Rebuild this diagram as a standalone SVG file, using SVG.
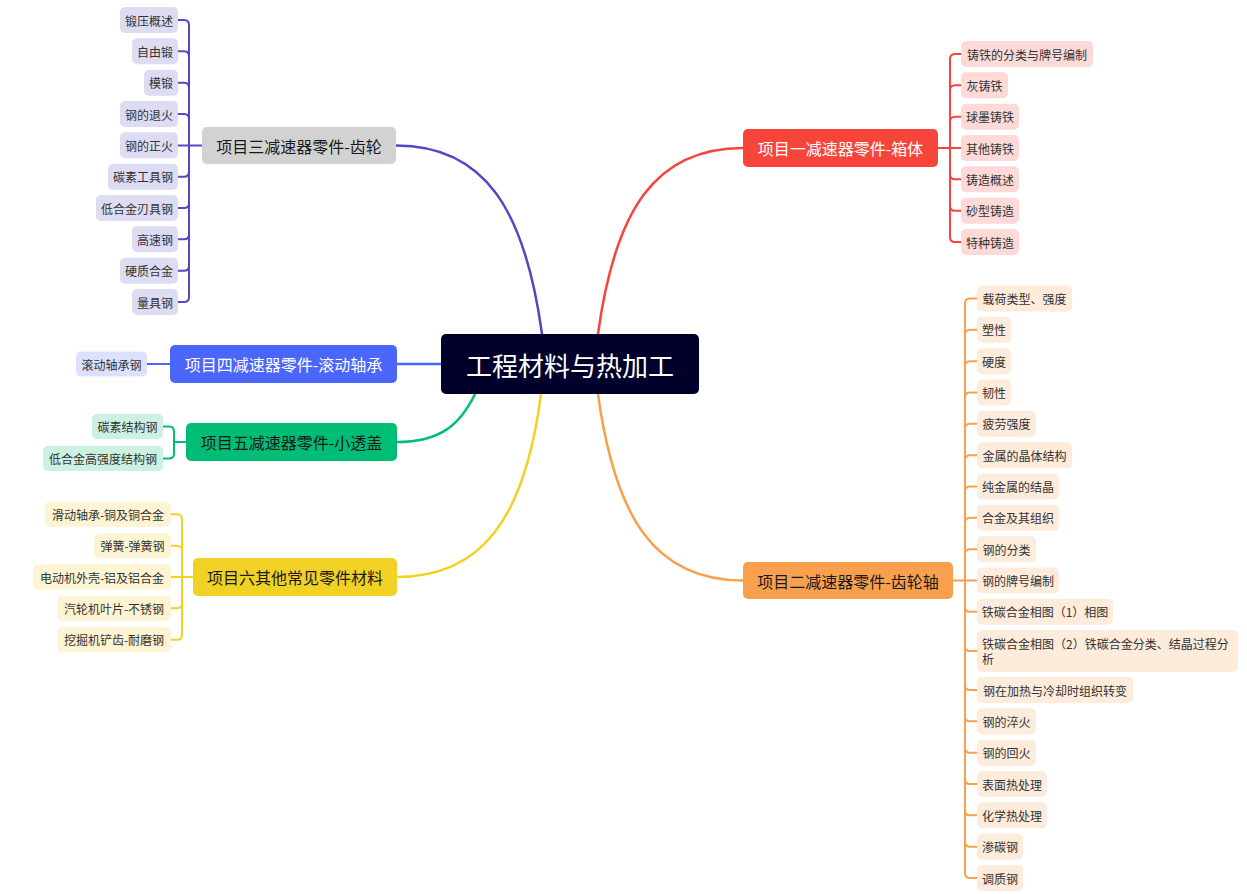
<svg xmlns="http://www.w3.org/2000/svg" width="1247" height="894" viewBox="0 0 1247 894">
<style>
text{font-family:"Noto Sans CJK SC","Microsoft YaHei","Noto Sans",sans-serif;dominant-baseline:central;text-anchor:middle}
.ct{font-size:26px;fill:#ffffff}
.mt{font-size:16px;fill:#1a1a1a}
.mw{fill:#ffffff}
.st{font-size:12px;fill:#333333}
.ln{fill:none;stroke-width:2.5;stroke-linecap:round}
.bk{fill:none;stroke-width:2}
.red{stroke:#F8453B}.org{stroke:#F8A04D}.pur{stroke:#5048C5}.blu{stroke:#4A66FB}.grn{stroke:#00BD75}.yel{stroke:#F2D125}
.sr{fill:#FDDAD8}.so{fill:#FDEBDB}.sp{fill:#DDDCF3}.sb{fill:#DCE1FD}.sg{fill:#CCF1E1}.sy{fill:#FCF4D2}
</style>
<rect width="1247" height="894" fill="#ffffff"/>
<g id="connectors">
<path class="ln red" d="M598,334 C615,210 655,148 743,148"/>
<path class="ln org" d="M598,394 C615,518 655,580.5 743,580.5"/>
<path class="ln pur" d="M542,334 C525,210 485,145.5 396,145.5"/>
<path class="ln yel" d="M541,394 C525,518 482,577 397,577"/>
<path class="ln blu" d="M441,364 H397"/>
<path class="ln grn" d="M475,394 C460,425 440,442 397,442"/>
<g class="bk red">
<path d="M938,148 H961"/>
<path d="M950,148 V59 Q950,54 955,54 H961"/>
<path d="M950,148 V90.3 Q950,85.3 955,85.3 H961"/>
<path d="M950,148 V121.7 Q950,116.7 955,116.7 H961"/>
<path d="M950,148 V174.3 Q950,179.3 955,179.3 H961"/>
<path d="M950,148 V205.7 Q950,210.7 955,210.7 H961"/>
<path d="M950,148 V237 Q950,242 955,242 H961"/>
</g>
<g class="bk pur">
<path d="M202,145.5 H178"/>
<path d="M189,145.5 V25 Q189,20 184,20 H178"/>
<path d="M189,145.5 V56.3 Q189,51.3 184,51.3 H178"/>
<path d="M189,145.5 V87.7 Q189,82.7 184,82.7 H178"/>
<path d="M189,145.5 V119 Q189,114 184,114 H178"/>
<path d="M189,145.5 V171.7 Q189,176.7 184,176.7 H178"/>
<path d="M189,145.5 V203 Q189,208 184,208 H178"/>
<path d="M189,145.5 V234.3 Q189,239.3 184,239.3 H178"/>
<path d="M189,145.5 V265.7 Q189,270.7 184,270.7 H178"/>
<path d="M189,145.5 V297 Q189,302 184,302 H178"/>
</g>
<g class="bk blu"><path d="M170,364 H147"/></g>
<g class="bk grn">
<path d="M186,442 H174"/>
<path d="M174,442 V431.5 Q174,426.5 169,426.5 H163"/>
<path d="M174,442 V453.5 Q174,458.5 169,458.5 H163"/>
</g>
<g class="bk yel">
<path d="M193,577 H171"/>
<path d="M182,577 V519.3 Q182,514.3 177,514.3 H171"/>
<path d="M182,577 V550.7 Q182,545.7 177,545.7 H171"/>
<path d="M182,577 V603.3 Q182,608.3 177,608.3 H171"/>
<path d="M182,577 V634.7 Q182,639.7 177,639.7 H171"/>
</g>
<g class="bk org">
<path d="M953,580.5 H977"/>
<path d="M965,580.5 V303.5 Q965,298.5 970,298.5 H977"/>
<path d="M965,580.5 V334.8 Q965,329.8 970,329.8 H977"/>
<path d="M965,580.5 V366.2 Q965,361.2 970,361.2 H977"/>
<path d="M965,580.5 V397.5 Q965,392.5 970,392.5 H977"/>
<path d="M965,580.5 V428.8 Q965,423.8 970,423.8 H977"/>
<path d="M965,580.5 V460.2 Q965,455.2 970,455.2 H977"/>
<path d="M965,580.5 V491.5 Q965,486.5 970,486.5 H977"/>
<path d="M965,580.5 V522.8 Q965,517.8 970,517.8 H977"/>
<path d="M965,580.5 V554.2 Q965,549.2 970,549.2 H977"/>
<path d="M965,580.5 V606.8 Q965,611.8 970,611.8 H977"/>
<path d="M965,580.5 V646 Q965,651 970,651 H977"/>
<path d="M965,580.5 V685 Q965,690 970,690 H977"/>
<path d="M965,580.5 V716.3 Q965,721.3 970,721.3 H977"/>
<path d="M965,580.5 V747.7 Q965,752.7 970,752.7 H977"/>
<path d="M965,580.5 V779 Q965,784 970,784 H977"/>
<path d="M965,580.5 V810.3 Q965,815.3 970,815.3 H977"/>
<path d="M965,580.5 V841.7 Q965,846.7 970,846.7 H977"/>
<path d="M965,580.5 V873 Q965,878 970,878 H977"/>
</g>
</g>
<g id="root">
<rect x="441" y="334" width="258" height="60" rx="5" fill="#00002A"/>
<text class="ct" x="570" y="364">工程材料与热加工</text>
</g>
<g id="branch1">
<rect x="743" y="129" width="195" height="38" rx="5" fill="#F8453B"/>
<text class="mt mw" x="840.5" y="148">项目一减速器零件-箱体</text>
</g>
<g id="branch1-children">
<g id="b1c1"><rect class="sr" x="961" y="41" width="132" height="26" rx="5"/><text class="st" x="1027" y="54">铸铁的分类与牌号编制</text></g>
<g id="b1c2"><rect class="sr" x="961" y="72.3" width="47" height="26" rx="5"/><text class="st" x="984.5" y="85.3">灰铸铁</text></g>
<g id="b1c3"><rect class="sr" x="961" y="103.7" width="58" height="26" rx="5"/><text class="st" x="990" y="116.7">球墨铸铁</text></g>
<g id="b1c4"><rect class="sr" x="961" y="135" width="58" height="26" rx="5"/><text class="st" x="990" y="148">其他铸铁</text></g>
<g id="b1c5"><rect class="sr" x="961" y="166.3" width="58" height="26" rx="5"/><text class="st" x="990" y="179.3">铸造概述</text></g>
<g id="b1c6"><rect class="sr" x="961" y="197.7" width="58" height="26" rx="5"/><text class="st" x="990" y="210.7">砂型铸造</text></g>
<g id="b1c7"><rect class="sr" x="961" y="229" width="58" height="26" rx="5"/><text class="st" x="990" y="242">特种铸造</text></g>
</g>
<g id="branch2">
<rect x="743" y="562" width="210" height="37" rx="5" fill="#F8A04D"/>
<text class="mt" x="848" y="580.5">项目二减速器零件-齿轮轴</text>
</g>
<g id="branch2-children">
<g id="b2c1"><rect class="so" x="977" y="285.5" width="95" height="26" rx="5"/><text class="st" x="1024.5" y="298.5">载荷类型、强度</text></g>
<g id="b2c2"><rect class="so" x="977" y="316.8" width="34" height="26" rx="5"/><text class="st" x="994" y="329.8">塑性</text></g>
<g id="b2c3"><rect class="so" x="977" y="348.2" width="34" height="26" rx="5"/><text class="st" x="994" y="361.2">硬度</text></g>
<g id="b2c4"><rect class="so" x="977" y="379.5" width="34" height="26" rx="5"/><text class="st" x="994" y="392.5">韧性</text></g>
<g id="b2c5"><rect class="so" x="977" y="410.8" width="59" height="26" rx="5"/><text class="st" x="1006.5" y="423.8">疲劳强度</text></g>
<g id="b2c6"><rect class="so" x="977" y="442.2" width="95" height="26" rx="5"/><text class="st" x="1024.5" y="455.2">金属的晶体结构</text></g>
<g id="b2c7"><rect class="so" x="977" y="473.5" width="82" height="26" rx="5"/><text class="st" x="1018" y="486.5">纯金属的结晶</text></g>
<g id="b2c8"><rect class="so" x="977" y="504.8" width="82" height="26" rx="5"/><text class="st" x="1018" y="517.8">合金及其组织</text></g>
<g id="b2c9"><rect class="so" x="977" y="536.2" width="59" height="26" rx="5"/><text class="st" x="1006.5" y="549.2">钢的分类</text></g>
<g id="b2c10"><rect class="so" x="977" y="567.5" width="82" height="26" rx="5"/><text class="st" x="1018" y="580.5">钢的牌号编制</text></g>
<g id="b2c11"><rect class="so" x="977" y="598.8" width="136" height="26" rx="5"/><text class="st" x="1045" y="611.8">铁碳合金相图（1）相图</text></g>
<g id="b2c12"><rect class="so" x="977" y="630" width="261" height="42" rx="5"/><text class="st" x="982" y="643" style="text-anchor:start">铁碳合金相图（2）铁碳合金分类、结晶过程分</text><text class="st" x="982" y="658.5" style="text-anchor:start">析</text></g>
<g id="b2c13"><rect class="so" x="977" y="677" width="156" height="26" rx="5"/><text class="st" x="1055" y="690">钢在加热与冷却时组织转变</text></g>
<g id="b2c14"><rect class="so" x="977" y="708.3" width="59" height="26" rx="5"/><text class="st" x="1006.5" y="721.3">钢的淬火</text></g>
<g id="b2c15"><rect class="so" x="977" y="739.7" width="59" height="26" rx="5"/><text class="st" x="1006.5" y="752.7">钢的回火</text></g>
<g id="b2c16"><rect class="so" x="977" y="771" width="70" height="26" rx="5"/><text class="st" x="1012" y="784">表面热处理</text></g>
<g id="b2c17"><rect class="so" x="977" y="802.3" width="70" height="26" rx="5"/><text class="st" x="1012" y="815.3">化学热处理</text></g>
<g id="b2c18"><rect class="so" x="977" y="833.7" width="46" height="26" rx="5"/><text class="st" x="1000" y="846.7">渗碳钢</text></g>
<g id="b2c19"><rect class="so" x="977" y="865" width="46" height="26" rx="5"/><text class="st" x="1000" y="878">调质钢</text></g>
</g>
<g id="branch3">
<rect x="202" y="127" width="194" height="37" rx="5" fill="#D2D2D2"/>
<text class="mt" x="299" y="145.5">项目三减速器零件-齿轮</text>
</g>
<g id="branch3-children">
<g id="b3c1"><rect class="sp" x="120" y="7" width="58" height="26" rx="5"/><text class="st" x="149" y="20">锻压概述</text></g>
<g id="b3c2"><rect class="sp" x="132" y="38.3" width="46" height="26" rx="5"/><text class="st" x="155" y="51.3">自由锻</text></g>
<g id="b3c3"><rect class="sp" x="144" y="69.7" width="34" height="26" rx="5"/><text class="st" x="161" y="82.7">模锻</text></g>
<g id="b3c4"><rect class="sp" x="120" y="101" width="58" height="26" rx="5"/><text class="st" x="149" y="114">钢的退火</text></g>
<g id="b3c5"><rect class="sp" x="120" y="132.3" width="58" height="26" rx="5"/><text class="st" x="149" y="145.3">钢的正火</text></g>
<g id="b3c6"><rect class="sp" x="108" y="163.7" width="70" height="26" rx="5"/><text class="st" x="143" y="176.7">碳素工具钢</text></g>
<g id="b3c7"><rect class="sp" x="96" y="195" width="82" height="26" rx="5"/><text class="st" x="137" y="208">低合金刃具钢</text></g>
<g id="b3c8"><rect class="sp" x="132" y="226.3" width="46" height="26" rx="5"/><text class="st" x="155" y="239.3">高速钢</text></g>
<g id="b3c9"><rect class="sp" x="120" y="257.7" width="58" height="26" rx="5"/><text class="st" x="149" y="270.7">硬质合金</text></g>
<g id="b3c10"><rect class="sp" x="132" y="289" width="46" height="26" rx="5"/><text class="st" x="155" y="302">量具钢</text></g>
</g>
<g id="branch4">
<rect x="170" y="345" width="227" height="38" rx="5" fill="#4A66FB"/>
<text class="mt mw" x="283.5" y="364">项目四减速器零件-滚动轴承</text>
</g>
<g id="branch4-children">
<g id="b4c1"><rect class="sb" x="76" y="351.5" width="71" height="25" rx="5"/><text class="st" x="111.5" y="364">滚动轴承钢</text></g>
</g>
<g id="branch5">
<rect x="186" y="423" width="211" height="38" rx="5" fill="#00BD75"/>
<text class="mt" x="291.5" y="442">项目五减速器零件-小透盖</text>
</g>
<g id="branch5-children">
<g id="b5c1"><rect class="sg" x="92" y="414" width="71" height="25" rx="5"/><text class="st" x="127.5" y="426.5">碳素结构钢</text></g>
<g id="b5c2"><rect class="sg" x="43" y="446" width="120" height="25" rx="5"/><text class="st" x="103" y="458.5">低合金高强度结构钢</text></g>
</g>
<g id="branch6">
<rect x="193" y="558" width="204" height="38" rx="5" fill="#F2D125"/>
<text class="mt" x="295" y="577">项目六其他常见零件材料</text>
</g>
<g id="branch6-children">
<g id="b6c1"><rect class="sy" x="45" y="501.8" width="126" height="25" rx="5"/><text class="st" x="108" y="514.3">滑动轴承-铜及铜合金</text></g>
<g id="b6c2"><rect class="sy" x="94" y="533.2" width="77" height="25" rx="5"/><text class="st" x="132.5" y="545.7">弹簧-弹簧钢</text></g>
<g id="b6c3"><rect class="sy" x="33" y="564.5" width="138" height="25" rx="5"/><text class="st" x="102" y="577">电动机外壳-铝及铝合金</text></g>
<g id="b6c4"><rect class="sy" x="57" y="595.8" width="114" height="25" rx="5"/><text class="st" x="114" y="608.3">汽轮机叶片-不锈钢</text></g>
<g id="b6c5"><rect class="sy" x="57" y="627.2" width="114" height="25" rx="5"/><text class="st" x="114" y="639.7">挖掘机铲齿-耐磨钢</text></g>
</g>
</svg>
